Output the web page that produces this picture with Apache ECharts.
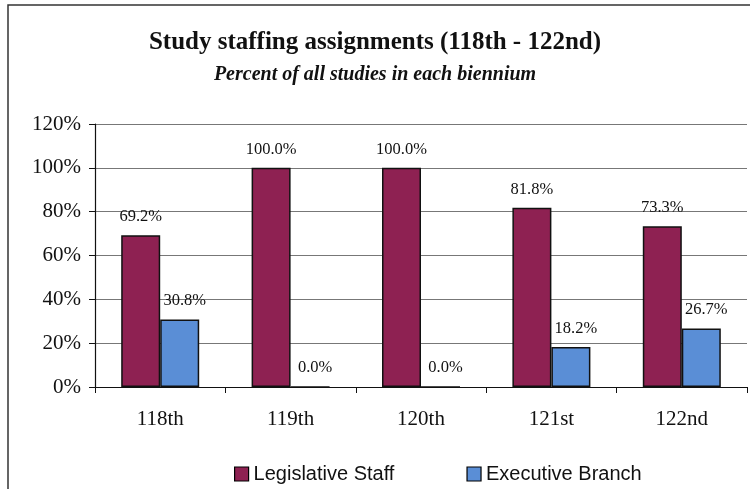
<!DOCTYPE html>
<html><head><meta charset="utf-8">
<script src="https://cdn.jsdelivr.net/npm/echarts@6/dist/echarts.min.js"></script>
<style>html,body{margin:0;padding:0;background:#fff}#c{width:750px;height:489px}</style>
</head><body><div id="c"></div>
<script>
const categories = ['118th', '119th', '120th', '121st', '122nd'];
const legislativeStaff = [69.2, 100.0, 100.0, 81.8, 73.3];
const executiveBranch = [30.8, 0.0, 0.0, 18.2, 26.7];
const seriesNames = ['Legislative Staff', 'Executive Branch'];

const chart = echarts.init(document.getElementById('c'), null, {renderer: 'canvas'});
const serif = '"Liberation Serif", "Times New Roman", serif';
const labelFmt = p => p.value.toFixed(1) + '%';
chart.setOption({
  animation: false,
  backgroundColor: '#fff',
  graphic: [{
    type: 'rect', shape: {x: 8, y: 5, width: 760, height: 500},
    style: {fill: 'none', stroke: '#333', lineWidth: 1.5}, silent: true
  }],
  title: [{
    text: 'Study staffing assignments (118th - 122nd)',
    left: 'center', top: 25,
    textStyle: {fontFamily: serif, fontWeight: 'bold', fontSize: 25, color: '#111'}
  }, {
    text: 'Percent of all studies in each biennium',
    left: 'center', top: 60,
    textStyle: {fontFamily: serif, fontWeight: 'bold', fontStyle: 'italic', fontSize: 20, color: '#111'}
  }],
  legend: {
    data: seriesNames, top: 459, left: 229, itemGap: 72, padding: 5,
    itemWidth: 14, itemHeight: 14, icon: 'rect',
    itemStyle: {borderColor: '#000', borderWidth: 1.2},
    textStyle: {fontFamily: '"Liberation Sans", Arial, sans-serif', fontSize: 20, color: '#111'}
  },
  grid: {left: 95, right: 3, top: 124, bottom: 102, containLabel: false},
  xAxis: {
    type: 'category', data: categories,
    axisLine: {lineStyle: {color: '#111', width: 1.2}},
    axisTick: {show: true, alignWithLabel: false, length: 6, lineStyle: {color: '#111'}},
    axisLabel: {fontFamily: serif, fontSize: 21, color: '#111', margin: 22}
  },
  yAxis: {
    type: 'value', min: 0, max: 120, interval: 20,
    axisLine: {show: true, lineStyle: {color: '#111', width: 1.2}},
    axisTick: {show: true, length: 6, lineStyle: {color: '#111'}},
    splitLine: {lineStyle: {color: '#777', width: 1}},
    axisLabel: {fontFamily: serif, fontSize: 21, color: '#111', margin: 14, formatter: '{value}%'}
  },
  series: [{
    name: seriesNames[0], type: 'bar', data: legislativeStaff,
    barWidth: 39, barGap: '0%',
    itemStyle: {color: '#8E2152', borderColor: '#111', borderWidth: 1.5},
    label: {show: true, position: 'top', distance: 10, formatter: labelFmt,
      fontFamily: serif, fontSize: 16.5, color: '#111'}
  }, {
    name: seriesNames[1], type: 'bar', data: executiveBranch,
    barWidth: 39, barGap: '0%',
    itemStyle: {color: '#5A8ED6', borderColor: '#111', borderWidth: 1.5},
    label: {show: true, position: 'top', distance: 10, offset: [5, 0], formatter: labelFmt,
      fontFamily: serif, fontSize: 16.5, color: '#111'}
  }]
});
</script></body></html>
